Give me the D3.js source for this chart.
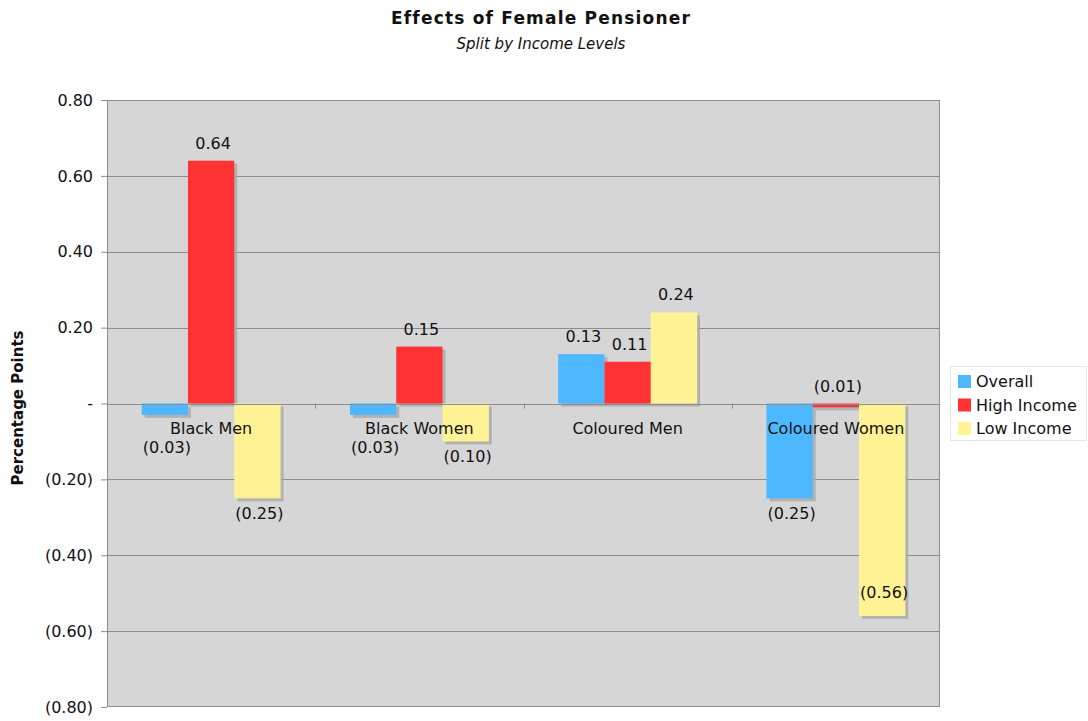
<!DOCTYPE html>
<html>
<head>
<meta charset="utf-8">
<script src="https://cdn.jsdelivr.net/npm/d3@7"></script>
<style>
  html, body { margin: 0; padding: 0; background: #ffffff; }
  svg text { font-family: "DejaVu Sans", Verdana, sans-serif; fill: #111; }
</style>
</head>
<body>
<svg id="chart" width="1088" height="721"></svg>
<script>
// Chart content
const title = "Effects of Female Pensioner";
const subtitle = "Split by Income Levels";
const yAxisTitle = "Percentage Points";

const categories = ["Black Men", "Black Women", "Coloured Men", "Coloured Women"];
const seriesNames = ["Overall", "High Income", "Low Income"];
const seriesColors = ["#4db8ff", "#ff3333", "#fff395"];

// values per series, in category order
const overall = [-0.03, -0.03, 0.13, -0.25];
const highIncome = [0.64, 0.15, 0.11, -0.01];
const lowIncome = [-0.25, -0.10, 0.24, -0.56];

const yTicks = [0.8, 0.6, 0.4, 0.2, 0, -0.2, -0.4, -0.6, -0.8];

const seriesValues = [overall, highIncome, lowIncome];

const svg = d3.select("#chart");

const plot = { left: 107, right: 940, top: 100, bottom: 707 };

const y = d3.scaleLinear().domain([-0.8, 0.8]).range([plot.bottom, plot.top]);
const x0 = d3.scaleBand().domain(categories).range([plot.left, plot.right]).padding(0);
const groupWidth = x0.bandwidth() * 0.667;
const x1 = d3.scaleBand().domain(seriesNames).range([0, groupWidth]).padding(0);
const groupOffset = (x0.bandwidth() - groupWidth) / 2;

const fmt = v => {
  if (Math.abs(v) < 1e-9) return "-";
  const s = d3.format(".2f")(Math.abs(v));
  return v < 0 ? "(" + s + ")" : s;
};

// Titles
svg.append("text")
  .attr("x", 541).attr("y", 24)
  .attr("text-anchor", "middle")
  .style("font-size", "17px").style("font-weight", "bold")
  .style("letter-spacing", "1.2px")
  .text(title);
svg.append("text")
  .attr("x", 541).attr("y", 49)
  .attr("text-anchor", "middle")
  .style("font-size", "15px").style("font-style", "italic")
  .text(subtitle);

// Plot background
svg.append("rect")
  .attr("x", plot.left).attr("y", plot.top)
  .attr("width", plot.right - plot.left).attr("height", plot.bottom - plot.top)
  .attr("fill", "#d6d6d6");

// Gridlines
svg.append("g").selectAll("line")
  .data(yTicks.filter(t => t !== 0.8 && t !== -0.8))
  .join("line")
  .attr("x1", plot.left).attr("x2", plot.right)
  .attr("y1", d => Math.round(y(d)) + 0.5).attr("y2", d => Math.round(y(d)) + 0.5)
  .attr("stroke", "#8c8c8c").attr("stroke-width", 1);

// Y axis with parenthesised negatives
const yAxis = d3.axisLeft(y).tickValues(yTicks).tickFormat(fmt).tickSize(6).tickPadding(8);
const gy = svg.append("g").attr("transform", `translate(${plot.left},0)`).call(yAxis);
gy.select(".domain").remove();
gy.selectAll(".tick line").attr("stroke", "#8c8c8c");
gy.selectAll(".tick text")
  .style("font-size", "16px")
  .style("font-family", "'DejaVu Sans', Verdana, sans-serif")
  .attr("fill", "#111");

// Plot border
svg.append("rect")
  .attr("x", plot.left + 0.5).attr("y", plot.top + 0.5)
  .attr("width", plot.right - plot.left - 1).attr("height", plot.bottom - plot.top - 1)
  .attr("fill", "none").attr("stroke", "#8c8c8c").attr("stroke-width", 1);

// Category ticks below zero line
svg.append("g").selectAll("line")
  .data(categories.slice(1))
  .join("line")
  .attr("x1", d => Math.round(x0(d)) + 0.5).attr("x2", d => Math.round(x0(d)) + 0.5)
  .attr("y1", y(0)).attr("y2", y(0) + 5)
  .attr("stroke", "#8c8c8c");

// Bars
const barData = [];
categories.forEach((c, ci) => {
  seriesNames.forEach((s, si) => {
    barData.push({ cat: c, series: s, si, value: seriesValues[si][ci] });
  });
});
const bx = d => x0(d.cat) + groupOffset + x1(d.series);
const by = d => y(Math.max(0, d.value));
const bh = d => Math.abs(y(d.value) - y(0));

const bars = svg.append("g");
// drop shadows
bars.selectAll("rect.shadow")
  .data(barData)
  .join("rect")
  .attr("class", "shadow")
  .attr("x", d => bx(d) + 3).attr("y", d => by(d) + 3)
  .attr("width", x1.bandwidth()).attr("height", d => bh(d))
  .attr("fill", "#a9a9a9").attr("opacity", 0.8);
bars.selectAll("rect.bar")
  .data(barData)
  .join("rect")
  .attr("class", "bar")
  .attr("x", d => bx(d)).attr("y", d => by(d))
  .attr("width", x1.bandwidth()).attr("height", d => bh(d))
  .attr("fill", d => seriesColors[d.si]);

// Zero line
svg.append("line")
  .attr("x1", plot.left).attr("x2", plot.right)
  .attr("y1", Math.round(y(0)) + 0.5).attr("y2", Math.round(y(0)) + 0.5)
  .attr("stroke", "#8c8c8c");

// Category labels
svg.append("g").selectAll("text")
  .data(categories)
  .join("text")
  .attr("x", d => x0(d) + x0.bandwidth() / 2)
  .attr("y", y(0) + 30)
  .attr("text-anchor", "middle")
  .style("font-size", "16px")
  .text(d => d);

// Value labels
const labelY = d => {
  const v = d.value;
  if (v >= 0) return y(v) - 12;
  if (Math.abs(v) < 0.02) return y(0) - 12;          // tiny bars: label sits above the axis
  if (v < -0.5) return y(v) - 18;                     // long bars: label inside the bar end
  return Math.max(y(v) + 21, y(0) + 49);              // clear of the category labels
};
svg.append("g").selectAll("text")
  .data(barData)
  .join("text")
  .attr("x", d => bx(d) + x1.bandwidth() / 2 + 2)
  .attr("y", labelY)
  .attr("text-anchor", "middle")
  .style("font-size", "16px")
  .text(d => fmt(d.value));

// Y axis title
svg.append("text")
  .attr("transform", `translate(23,${408}) rotate(-90)`)
  .attr("text-anchor", "middle")
  .style("font-size", "15px").style("font-weight", "bold")
  .text(yAxisTitle);

// Legend
const legend = svg.append("g").attr("transform", "translate(950,366)");
legend.append("rect")
  .attr("x", 0.5).attr("y", 0.5).attr("width", 136).attr("height", 74)
  .attr("fill", "#ffffff").attr("stroke", "#e4e4e4");
const li = legend.selectAll("g.item")
  .data(seriesNames)
  .join("g")
  .attr("class", "item")
  .attr("transform", (d, i) => `translate(0,${15 + i * 23.5})`);
li.append("rect")
  .attr("x", 8).attr("y", -6).attr("width", 13).attr("height", 13)
  .attr("fill", (d, i) => seriesColors[i]);
li.append("text")
  .attr("x", 26).attr("y", 6)
  .style("font-size", "16px")
  .text(d => d);
</script>
</body>
</html>
